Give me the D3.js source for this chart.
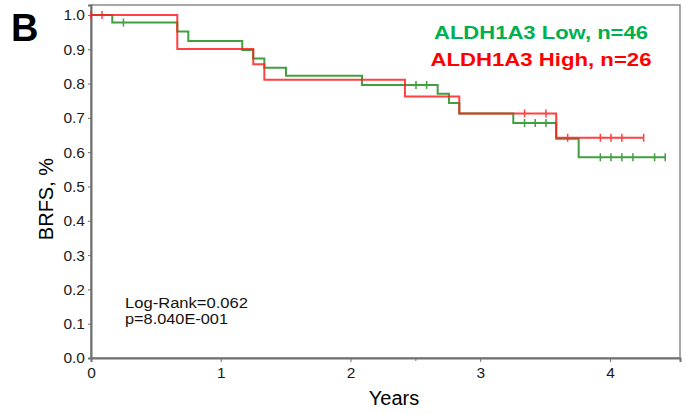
<!DOCTYPE html>
<html>
<head>
<meta charset="utf-8">
<script src="https://cdn.jsdelivr.net/npm/d3@7/dist/d3.min.js"></script>
<style>
  html, body { margin: 0; padding: 0; background: #fff; }
  svg { display: block; font-family: Arial, "Liberation Sans", sans-serif; }
</style>
</head>
<body>
<svg id="chart" width="686" height="414"></svg>
<script>
/* Kaplan-Meier BRFS curves, ALDH1A3 low vs high. */

// step starts (years) and survival after each step
const lowTimes = [0, 0.164, 0.665, 0.75, 1.166, 1.25, 1.336, 1.503, 2.089, 2.672, 2.759, 2.839, 3.255, 3.586, 3.759];
const lowSurv = [1.0, 0.978, 0.952, 0.924, 0.898, 0.873, 0.846, 0.823, 0.796, 0.770, 0.743, 0.713, 0.685, 0.639, 0.585];
const lowEnd = 4.426;
const lowCensor = [0.25, 2.505, 2.587, 3.342, 3.424, 3.507, 3.926, 4.008, 4.092, 4.177, 4.344, 4.426];

const highTimes = [0, 0.665, 1.251, 1.336, 2.42, 2.839, 3.586];
const highSurv = [1.0, 0.901, 0.856, 0.811, 0.762, 0.713, 0.642];
const highEnd = 4.26;
const highCensor = [0, 0.085, 3.342, 3.507, 3.674, 3.926, 4.008, 4.092, 4.26];

const xTicks = [0, 1, 2, 3, 4];
const xMinorTicks = [2.5];
const yTicks = [0, 0.1, 0.2, 0.3, 0.4, 0.5, 0.6, 0.7, 0.8, 0.9, 1.0];

const legendLabels = ["ALDH1A3 Low, n=46", "ALDH1A3 High, n=26"];
const legendWidths = [214, 221]; // the source text is set wide
const statLines = ["Log-Rank=0.062", "p=8.040E-001"];
const statWidths = [123, 103];

const svg = d3.select("#chart");
const x = d3.scaleLinear().domain([0, 4.54]).range([91, 680]);
const y = d3.scaleLinear().domain([0, 1.029]).range([358, 5]);

/* ---------- frame + axes ---------- */
svg.append("rect")
  .attr("x", x(0)).attr("y", y(1.029))
  .attr("width", x(4.54) - x(0)).attr("height", y(0) - y(1.029))
  .attr("fill", "none").attr("stroke", "#8a8a8a").attr("stroke-width", 1.5);

svg.append("g")
  .attr("transform", `translate(0,${y(0)})`)
  .call(d3.axisBottom(x).tickValues(xTicks).tickFormat(d3.format("d")).tickSize(4).tickPadding(5));
svg.append("g")
  .attr("transform", `translate(0,${y(0)})`)
  .call(d3.axisBottom(x).tickValues(xMinorTicks).tickFormat("").tickSize(3))
  .call((g) => g.select(".domain").remove());

svg.append("g")
  .attr("transform", `translate(${x(0)},0)`)
  .call(d3.axisLeft(y).tickValues(yTicks).tickFormat(d3.format(".1f")).tickSize(3).tickPadding(3));

svg.selectAll(".domain").attr("stroke", "#707070").attr("stroke-width", 2);
svg.selectAll(".tick line").attr("stroke", "#707070").attr("stroke-width", 1);
svg.selectAll(".tick text").attr("fill", "#1a1a1a").style("font-size", "15.5px")
  .style("font-family", "Arial, 'Liberation Sans', sans-serif");

/* ---------- curves ---------- */
function stepPoints(times, surv, end) {
  const pts = [[times[0], surv[0]]];
  for (let i = 1; i < times.length; i++) {
    pts.push([times[i], surv[i - 1]]);
    pts.push([times[i], surv[i]]);
  }
  pts.push([end, surv[surv.length - 1]]);
  return pts;
}

function survAt(times, surv, t) {
  let v = surv[0];
  for (let i = 0; i < times.length; i++) if (times[i] <= t) v = surv[i];
  return v;
}

const line = d3.line().x((d) => x(d[0])).y((d) => y(d[1]));

function drawGroup(times, surv, end, censor, color) {
  const g = svg.append("g").attr("opacity", 0.85);
  g.append("path")
    .attr("d", line(stepPoints(times, surv, end)))
    .attr("fill", "none").attr("stroke", color).attr("stroke-width", 2);
  g.selectAll("line.cens")
    .data(censor)
    .join("line")
    .attr("class", "cens")
    .attr("x1", (d) => x(d)).attr("x2", (d) => x(d))
    .attr("y1", (d) => y(survAt(times, surv, d)) - 4)
    .attr("y2", (d) => y(survAt(times, surv, d)) + 4)
    .attr("stroke", color).attr("stroke-width", 1.5);
}

drawGroup(lowTimes, lowSurv, lowEnd, lowCensor, "#1f8f1f");
drawGroup(highTimes, highSurv, highEnd, highCensor, "#ff2020");

/* ---------- text ---------- */
svg.append("text").attr("x", 11).attr("y", 41)
  .style("font-size", "38px").style("font-weight", "bold").text("B");

svg.selectAll("text.legend")
  .data(legendLabels)
  .join("text")
  .attr("class", "legend")
  .attr("x", (d, i) => 541 - legendWidths[i] / 2).attr("y", (d, i) => 38.5 + i * 27.5)
  .attr("textLength", (d, i) => legendWidths[i]).attr("lengthAdjust", "spacingAndGlyphs")
  .attr("fill", (d, i) => (i === 0 ? "#00b050" : "#ff0000"))
  .style("font-size", "18.5px").style("font-weight", "bold")
  .text((d) => d);

svg.selectAll("text.stat")
  .data(statLines)
  .join("text")
  .attr("class", "stat")
  .attr("x", 125).attr("y", (d, i) => 308 + i * 15.5)
  .attr("textLength", (d, i) => statWidths[i]).attr("lengthAdjust", "spacingAndGlyphs")
  .attr("fill", "#111")
  .style("font-size", "15.5px")
  .text((d) => d);

svg.append("text").attr("x", 394).attr("y", 405)
  .attr("text-anchor", "middle").style("font-size", "20px").text("Years");

svg.append("text")
  .attr("transform", "translate(53,199) rotate(-90)")
  .attr("text-anchor", "middle").style("font-size", "20px").text("BRFS, %");
</script>
</body>
</html>
